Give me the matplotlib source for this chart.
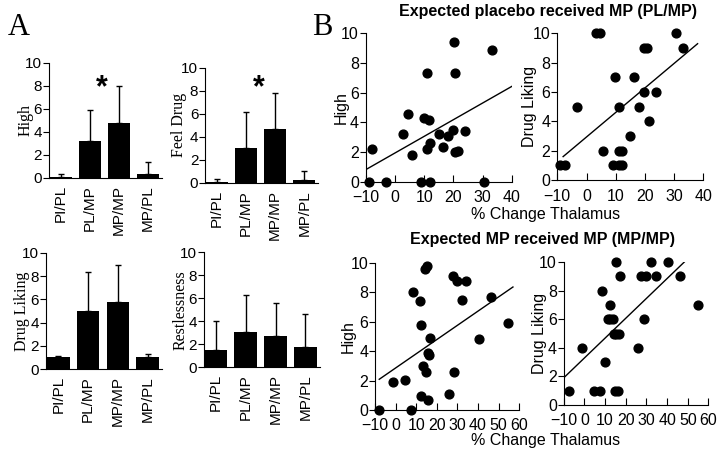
import numpy as np
import matplotlib
matplotlib.use("Agg")
import matplotlib.pyplot as plt

plt.rcParams['font.family'] = ['Liberation Sans', 'DejaVu Sans']

# Panel A : moyennes et écarts (barre d'erreur vers le haut seulement)
conditions = ["PI/PL", "PL/MP", "MP/MP", "MP/PL"]
high_mean = [0.1, 3.2, 4.8, 0.35]
high_err = [0.25, 2.7, 3.2, 1.05]
feel_mean = [0.1, 3.05, 4.65, 0.25]
feel_err = [0.25, 3.1, 3.15, 0.75]
liking_mean = [1.0, 5.0, 5.8, 1.0]
liking_err = [0.1, 3.35, 3.15, 0.3]
restless_mean = [1.5, 3.05, 2.7, 1.75]
restless_err = [2.5, 3.2, 2.9, 2.9]

# Panel B : % changement thalamus vs scores
plmp_high_x = [-9.0, -3.1, 8.9, 12.1, 30.4, -7.8, 2.9, 4.4, 5.7, 9.8, 11.5, 10.9,
               11.1, 12.1, 14.9, 16.3, 18.0, 19.8, 20.5, 21.5, 20.1, 20.6, 23.8, 33.1]
plmp_high_y = [0, 0, 0, 0, 0, 2.2, 3.25, 4.6, 1.8, 4.3, 4.15, 7.35,
               2.2, 2.6, 3.25, 2.35, 3.1, 3.5, 2.0, 2.1, 9.4, 7.35, 3.45, 8.9]

plmp_like_x = [-9.0, -7.5, 3.4, 4.6, -3.2, 5.7, 9.8, 9.2, 11.0, 12.3, 11.1, 12.3,
               11.1, 14.9, 16.3, 18.0, 19.5, 19.8, 20.8, 21.5, 23.8, 30.7, 33.0]
plmp_like_y = [1, 1, 10, 10, 5, 2, 7, 1, 1, 1, 2, 2,
               5, 3, 7, 5, 6, 9, 9, 4, 6, 10, 9]

mpmp_high_x = [-7.9, -1.5, 4.5, 7.4, 8.2, 11.8, 12.3, 12.3, 13.4, 14.2, 15.0, 14.7, 15.5,
               15.8, 16.3, 16.6, 26.0, 27.9, 28.5, 29.8, 32.4, 34.4, 40.5, 46.1, 54.5]
mpmp_high_y = [0, 1.9, 2.05, 0, 8.0, 7.4, 5.75, 0.95, 3.0, 9.6, 9.8, 2.6, 0.7,
               3.9, 3.75, 4.9, 1.1, 9.1, 2.6, 8.75, 7.5, 8.75, 4.85, 7.7, 5.9]

mpmp_like_x = [-7.6, -1.1, 4.5, 7.7, 8.7, 12.3, 11.2, 12.6, 13.9, 9.8, 15.2, 14.2, 15.5,
               16.8, 15.0, 16.2, 17.1, 26.0, 27.6, 28.7, 30.0, 32.4, 34.5, 40.5, 46.1, 54.7]
mpmp_like_y = [1, 4, 1, 1, 8, 7, 6, 6, 6, 3, 10, 5, 5,
               5, 1, 1, 9, 4, 9, 6, 9, 10, 9, 10, 9, 7]

# droites de régression : pente, ordonnée à l'origine, x début, x fin
fit_plmp_high = (0.112, 1.95, -10, 40)
fit_plmp_like = (0.167, 2.94, -8, 38)
fit_mpmp_high = (0.0966, 2.86, -8, 57)
fit_mpmp_like = (0.139, 3.29, -10, 49)

fig = plt.figure(figsize=(7.2, 4.55), dpi=100)


def barres(rect, moy, err, label, lab_x, star=None):
    ax = fig.add_axes(rect)
    x = np.arange(len(conditions))
    ax.bar(x, moy, width=0.76, color='black')
    ax.errorbar(x, moy, yerr=[np.zeros(len(err)), err], fmt='none', ecolor='black',
                elinewidth=1, capsize=2.5, capthick=1)
    ax.set_xlim(-0.41, 3.48)
    ax.set_ylim(0, 10)
    ax.set_yticks(range(0, 11, 2))
    ax.set_xticks(x)
    ax.set_xticklabels(conditions, rotation=90, fontsize=11)
    ax.tick_params(axis='x', length=0, pad=5)
    ax.tick_params(axis='y', length=4, pad=1, labelsize=11)
    ax.spines['top'].set_visible(False)
    ax.spines['right'].set_visible(False)
    ax.set_ylabel(label, family='Liberation Serif', fontsize=11.5, va='center')
    ax.yaxis.set_label_coords(lab_x, 0.5)
    if star is not None:
        ax.text(star[0], star[1], "*", fontsize=22, fontweight='bold',
                ha='center', va='center')
    return ax


def nuage(rect, x, y, fit, xmax, label, lab_x):
    ax = fig.add_axes(rect)
    ax.scatter(x, y, s=40, color='black', clip_on=False, zorder=3)
    a, b, x0, x1 = fit
    xx = np.array([x0, x1])
    ax.plot(xx, a * xx + b, color='black', linewidth=1)
    ax.set_xlim(-10, xmax)
    ax.set_ylim(0, 10)
    ax.set_xticks(range(-10, xmax + 1, 10))
    ax.set_yticks(range(0, 11, 2))
    ax.tick_params(axis='x', direction='in', length=5, pad=6, labelsize=11.5)
    ax.tick_params(axis='y', length=4, pad=1, labelsize=11.5)
    ax.spines['top'].set_visible(False)
    ax.spines['right'].set_visible(False)
    ax.set_ylabel(label, fontsize=11.5, va='center')
    ax.yaxis.set_label_coords(lab_x, 0.5)
    return ax


barres([0.068, 0.609, 0.157, 0.253], high_mean, high_err, "High", -0.21, star=(1.4, 7.8))
barres([0.285, 0.598, 0.157, 0.253], feel_mean, feel_err, "Feel Drug", -0.23, star=(1.45, 8.2))
barres([0.064, 0.189, 0.161, 0.255], liking_mean, liking_err, "Drug Liking", -0.21)
barres([0.283, 0.193, 0.161, 0.253], restless_mean, restless_err, "Restlessness", -0.20)

nuage([0.508, 0.600, 0.203, 0.327], plmp_high_x, plmp_high_y, fit_plmp_high, 40, "High", -0.165)
nuage([0.774, 0.604, 0.203, 0.323], plmp_like_x, plmp_like_y, fit_plmp_like, 40, "Drug Liking", -0.19)
nuage([0.521, 0.099, 0.200, 0.323], mpmp_high_x, mpmp_high_y, fit_mpmp_high, 60, "High", -0.19)
nuage([0.783, 0.110, 0.201, 0.314], mpmp_like_x, mpmp_like_y, fit_mpmp_like, 60, "Drug Liking", -0.165)

# lettres des panneaux et titres
fig.text(0.011, 0.923, "A", family='Liberation Serif', fontsize=22, va='baseline')
fig.text(0.433, 0.923, "B", family='Liberation Serif', fontsize=22, va='baseline')
fig.text(0.761, 0.974, "Expected placebo received MP (PL/MP)", fontsize=11.5,
         fontweight='bold', ha='center', va='center')
fig.text(0.753, 0.473, "Expected MP received MP (MP/MP)", fontsize=11.5,
         fontweight='bold', ha='center', va='center')
fig.text(0.758, 1 - 215 / 455, "% Change Thalamus", fontsize=11.5, ha='center', va='center')
fig.text(0.758, 1 - 441 / 455, "% Change Thalamus", fontsize=11.5, ha='center', va='center')

fig.savefig("out.png", dpi=100)
